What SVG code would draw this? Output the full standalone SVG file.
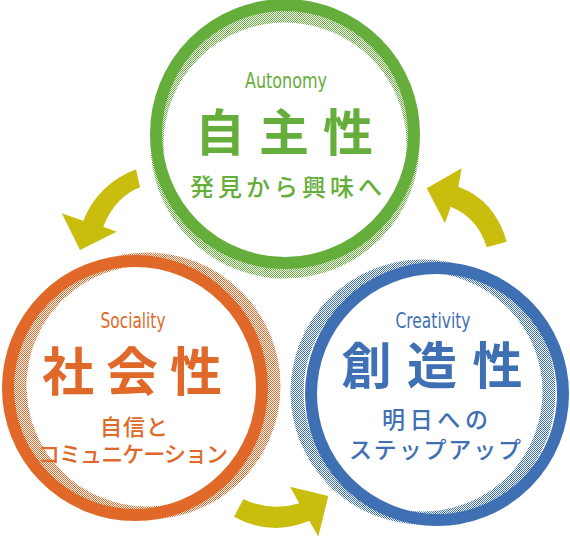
<svg xmlns="http://www.w3.org/2000/svg" width="570" height="540" viewBox="0 0 570 540">
<defs>
<pattern id="dg" width="2" height="2" patternUnits="userSpaceOnUse"><rect x="0" y="0" width="1" height="1" fill="#66ae3c"/><rect x="1" y="1" width="1" height="1" fill="#66ae3c"/></pattern>
<pattern id="do" width="2" height="2" patternUnits="userSpaceOnUse"><rect x="0" y="0" width="1" height="1" fill="#e0692a"/><rect x="1" y="1" width="1" height="1" fill="#e0692a"/></pattern>
<pattern id="db" width="2" height="2" patternUnits="userSpaceOnUse"><rect x="0" y="0" width="1" height="1" fill="#3f70b4"/><rect x="1" y="1" width="1" height="1" fill="#3f70b4"/></pattern>
<style>
.ring{fill:none;stroke-width:12}
.dith{fill:none;stroke-width:13}
.en{font-family:"Liberation Sans Narrow","DejaVu Sans Condensed","Liberation Sans",sans-serif;font-size:21px;text-anchor:middle}
.big{font-family:"Noto Sans CJK JP","Noto Sans",sans-serif;font-weight:700;text-anchor:middle}
.sub{font-family:"Noto Sans CJK JP","Noto Sans",sans-serif;font-weight:500;text-anchor:middle}
.arrow{fill:#c9bd0e}
.g{fill:#66ae3c}.o{fill:#e0692a}.b{fill:#3f70b4}
</style>
</defs>
<g id="connectors">
<path class="arrow" d="M136,169.3 L140,187.3 Q115,197 103.3,226.7 L116.7,231.7 L80,250 L61.7,213.3 L83.3,220.7 Q98,184 136,169.3 Z"/>
<path class="arrow" d="M426.7,188.3 L461.7,168.3 L458.3,186.7 Q495,200 506.7,241.7 L486.7,247.3 Q478,218 450.7,206.7 L445,223.3 Z"/>
<path class="arrow" d="M243.3,499.3 Q272,512 299.3,503.3 L290,486.7 L328.3,496 L318.3,536.7 L309.3,520.7 Q270,537 234,516.7 Z"/>
</g>
<g id="autonomy">
<circle class="dith" cx="285" cy="144" r="128" stroke="url(#dg)"/>
<circle class="ring" cx="285" cy="134" r="129" stroke="#66ae3c"/>
<text class="en g" x="286" y="88" textLength="82" lengthAdjust="spacingAndGlyphs">Autonomy</text>
<text class="big g" x="284" y="151" font-size="50" textLength="178" lengthAdjust="spacing">自主性</text>
<text class="sub g" x="286" y="196" font-size="24" textLength="192" lengthAdjust="spacing">発見から興味へ</text>
</g>
<g id="sociality">
<circle class="dith" cx="147" cy="386" r="127" stroke="url(#do)"/>
<circle class="ring" cx="135" cy="388" r="127" stroke="#e0692a"/>
<text class="en o" x="133" y="328" textLength="65" lengthAdjust="spacingAndGlyphs">Sociality</text>
<text class="big o" x="132" y="391" font-size="52" textLength="180" lengthAdjust="spacing">社会性</text>
<text class="sub o" x="134" y="435" font-size="22" textLength="68" lengthAdjust="spacing">自信と</text>
<text class="sub o" x="133" y="462" font-size="22" textLength="190" lengthAdjust="spacing">コミュニケーション</text>
</g>
<g id="creativity">
<circle class="dith" cx="423" cy="392" r="126" stroke="url(#db)"/>
<circle class="ring" cx="437" cy="394" r="126" stroke="#3f70b4"/>
<text class="en b" x="433" y="328" textLength="75" lengthAdjust="spacingAndGlyphs">Creativity</text>
<text class="big b" x="432" y="384" font-size="50" textLength="181" lengthAdjust="spacing">創造性</text>
<text class="sub b" x="435" y="428" font-size="23" textLength="106" lengthAdjust="spacing">明日への</text>
<text class="sub b" x="435" y="458" font-size="23" textLength="172" lengthAdjust="spacing">ステップアップ</text>
</g>
</svg>
